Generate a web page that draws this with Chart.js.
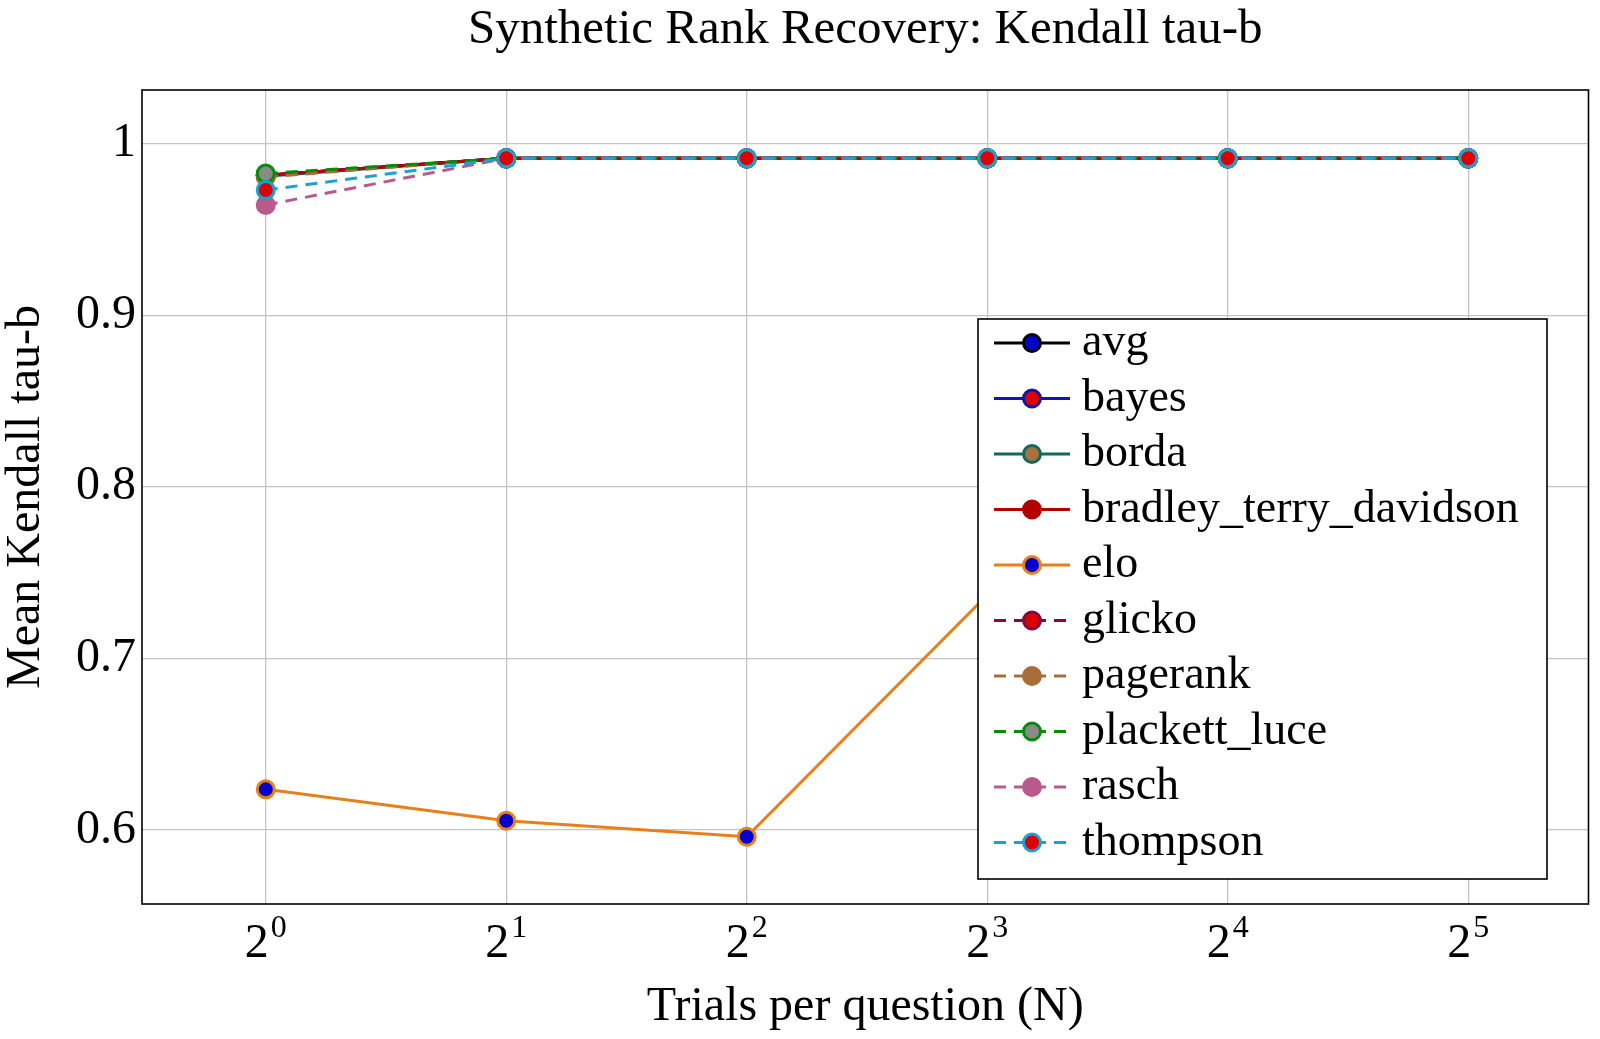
<!DOCTYPE html>
<html>
<head>
<meta charset="utf-8">
<script src="https://cdn.jsdelivr.net/npm/chart.js@4.4.1/dist/chart.umd.min.js"></script>
<style>
  html, body { margin: 0; padding: 0; background: #fff; }
  #wrap { width: 1600px; height: 1039px; }
</style>
</head>
<body>
<div id="wrap"><canvas id="myChart" width="1600" height="1039"></canvas></div>
<script>
// Trials per question (x axis, log2)
var trials = [1, 2, 4, 8, 16, 32];
var yTicks = [0.6, 0.7, 0.8, 0.9, 1];
var chartTitle = 'Synthetic Rank Recovery: Kendall tau-b';

// Mean Kendall tau-b per method
var avg = [0.9815, 0.9914, 0.9914, 0.9914, 0.9914, 0.9914];
var bayes = [0.9815, 0.9914, 0.9914, 0.9914, 0.9914, 0.9914];
var borda = [0.981, 0.9914, 0.9914, 0.9914, 0.9914, 0.9914];
var bradleyTerryDavidson = [0.9815, 0.9914, 0.9914, 0.9914, 0.9914, 0.9914];
var elo = [0.6237, 0.6054, 0.5961, 0.737, 0.82, 0.87];
var glicko = [0.9815, 0.9914, 0.9914, 0.9914, 0.9914, 0.9914];
var pagerank = [0.9805, 0.9914, 0.9914, 0.9914, 0.9914, 0.9914];
var plackettLuce = [0.9825, 0.9914, 0.9914, 0.9914, 0.9914, 0.9914];
var rasch = [0.9642, 0.9914, 0.9914, 0.9914, 0.9914, 0.9914];
var thompson = [0.9729, 0.9914, 0.9914, 0.9914, 0.9914, 0.9914];

var FONT = "'Liberation Serif', 'DejaVu Serif', serif";
var DASH = [12, 8];

// label, values, line colour, marker fill, marker edge, dashed
var series = [
  ['avg', avg, '#000000', '#0000cc', '#000000', false],
  ['bayes', bayes, '#1414a6', '#dd0000', '#1414a6', false],
  ['borda', borda, '#11695e', '#a8703c', '#11695e', false],
  ['bradley_terry_davidson', bradleyTerryDavidson, '#b40000', '#b40000', '#b40000', false],
  ['elo', elo, '#e6801a', '#0000cc', '#e6801a', false],
  ['glicko', glicko, '#850a3c', '#dd0000', '#850a3c', true],
  ['pagerank', pagerank, '#a86e3a', '#a86e3a', '#a86e3a', true],
  ['plackett_luce', plackettLuce, '#0a8a0a', '#8a8a8a', '#0a8a0a', true],
  ['rasch', rasch, '#b85a8c', '#b85a8c', '#b85a8c', true],
  ['thompson', thompson, '#1aa2d0', '#dd0000', '#1aa2d0', true]
];

var datasets = series.map(function (s, i) {
  return {
    label: s[0],
    data: trials.map(function (t, j) { return { x: t, y: s[1][j] }; }),
    borderColor: s[2],
    backgroundColor: s[3],
    pointBackgroundColor: s[3],
    pointBorderColor: s[4],
    pointRadius: 8.5,
    pointBorderWidth: 3,
    borderWidth: 3,
    borderDash: s[5] ? DASH : [],
    tension: 0,
    order: series.length - 1 - i
  };
});

// title, frame, x tick labels (2^n) and the legend inside the plot
var extras = {
  id: 'extras',
  afterDatasetsDraw: function (chart) {
    var ctx = chart.ctx;
    var a = chart.chartArea;
    ctx.save();

    // title centred over the plot area
    ctx.fillStyle = '#000';
    ctx.font = '49px ' + FONT;
    ctx.textAlign = 'center';
    ctx.textBaseline = 'alphabetic';
    ctx.fillText(chartTitle, (a.left + a.right) / 2, 43);

    // axis frame
    ctx.strokeStyle = '#000';
    ctx.lineWidth = 1.6;
    ctx.setLineDash([]);
    ctx.strokeRect(a.left, a.top, a.right - a.left, a.bottom - a.top);

    // x tick labels as powers of two
    var xs = chart.scales.x;
    xs.ticks.forEach(function (t) {
      var px = xs.getPixelForValue(t.value);
      var e = String(Math.round(Math.log2(t.value)));
      ctx.font = '48px ' + FONT;
      var wb = ctx.measureText('2').width;
      ctx.font = '32px ' + FONT;
      var we = ctx.measureText(e).width;
      var x0 = px - (wb + we + 2) / 2;
      ctx.textAlign = 'left';
      ctx.font = '48px ' + FONT;
      ctx.fillText('2', x0, 957);
      ctx.font = '32px ' + FONT;
      ctx.fillText(e, x0 + wb + 2, 937);
    });

    // legend box
    var L = { left: 978, top: 319, right: 1547, bottom: 879 };
    ctx.fillStyle = '#fff';
    ctx.fillRect(L.left, L.top, L.right - L.left, L.bottom - L.top);
    ctx.strokeStyle = '#000';
    ctx.lineWidth = 1.6;
    ctx.strokeRect(L.left, L.top, L.right - L.left, L.bottom - L.top);

    chart.data.datasets.forEach(function (ds, i) {
      var cy = 343 + i * 55.5;
      ctx.strokeStyle = ds.borderColor;
      ctx.lineWidth = ds.borderWidth;
      ctx.setLineDash(ds.borderDash);
      ctx.beginPath();
      ctx.moveTo(994, cy);
      ctx.lineTo(1070, cy);
      ctx.stroke();
      ctx.setLineDash([]);
      ctx.beginPath();
      ctx.arc(1032, cy, ds.pointRadius, 0, Math.PI * 2);
      ctx.fillStyle = ds.pointBackgroundColor;
      ctx.fill();
      ctx.lineWidth = ds.pointBorderWidth;
      ctx.strokeStyle = ds.pointBorderColor;
      ctx.stroke();
      ctx.fillStyle = '#000';
      ctx.font = '46px ' + FONT;
      ctx.textAlign = 'left';
      ctx.textBaseline = 'alphabetic';
      ctx.fillText(ds.label, 1082, cy + 12);
    });
    ctx.restore();
  }
};

Chart.defaults.font.family = FONT;
Chart.defaults.color = '#000';

var config = {
  type: 'line',
  data: { datasets: datasets },
  options: {
    responsive: false,
    animation: false,
    devicePixelRatio: 1,
    layout: { padding: { top: 90, left: 0, right: 9, bottom: 0 } },
    plugins: {
      legend: { display: false },
      tooltip: { enabled: false },
      title: { display: false }
    },
    scales: {
      x: {
        type: 'logarithmic',
        min: Math.pow(2, -0.5),
        max: Math.pow(2, 5.5),
        afterBuildTicks: function (scale) {
          scale.ticks = trials.map(function (v) { return { value: v }; });
        },
        afterFit: function (scale) { scale.height = 135; },
        ticks: { display: false },
        grid: { color: '#c4c4c4', lineWidth: 1.3, drawTicks: false },
        border: { display: false },
        title: {
          display: true,
          text: 'Trials per question (N)',
          font: { size: 48, weight: 'normal', lineHeight: 1.1 },
          padding: { top: 0, bottom: 5.6 }
        }
      },
      y: {
        type: 'linear',
        min: 0.5569,
        max: 1.0312,
        afterBuildTicks: function (scale) {
          scale.ticks = yTicks.map(function (v) { return { value: v }; });
        },
        afterFit: function (scale) { scale.width = 142; },
        ticks: {
          padding: 6,
          font: { size: 48 },
          callback: function (v) { return String(Number(v.toFixed(1))); }
        },
        grid: { color: '#c4c4c4', lineWidth: 1.3, drawTicks: false },
        border: { display: false },
        title: {
          display: true,
          text: 'Mean Kendall tau-b',
          font: { size: 48, weight: 'normal', lineHeight: 1.1 },
          padding: { top: 0, bottom: 0 }
        }
      }
    }
  },
  plugins: [extras]
};

var canvas = document.getElementById('myChart');
var chart = new Chart(canvas, config);
</script>
</body>
</html>
